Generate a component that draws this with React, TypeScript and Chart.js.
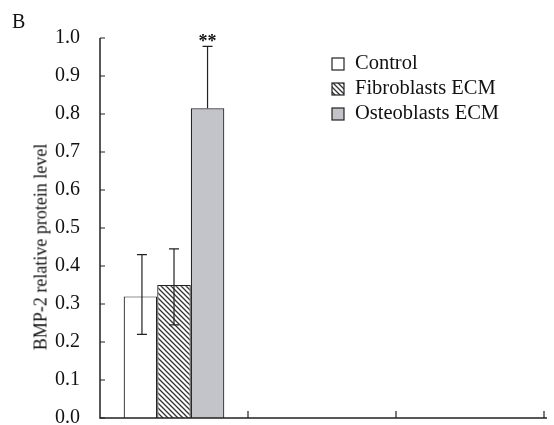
import React, { useEffect, useRef } from "react";
import { Chart, registerables } from "chart.js";

Chart.register(...registerables);

const categories = ["", "", ""];
const seriesNames = ["Control", "Fibroblasts ECM", "Osteoblasts ECM"];
const controlValues = [0.32, null, null];
const fibroValues = [0.35, null, null];
const osteoValues = [0.815, null, null];
const errUpper = [0.43, 0.445, 0.978];
const errLower = [0.22, 0.245, null];
const yTicks = [0, 0.1, 0.2, 0.3, 0.4, 0.5, 0.6, 0.7, 0.8, 0.9, 1.0];
const significance = "**";

const FONT = '"Liberation Serif", "Times New Roman", serif';

function makeHatch(): CanvasPattern | string {
  const c = document.createElement("canvas");
  c.width = 5;
  c.height = 5;
  const g = c.getContext("2d");
  if (!g) return "#888";
  g.fillStyle = "#ffffff";
  g.fillRect(0, 0, 5, 5);
  g.strokeStyle = "#333333";
  g.lineWidth = 1.3;
  g.beginPath();
  g.moveTo(-1, -1);
  g.lineTo(6, 6);
  g.moveTo(-1, 4);
  g.lineTo(1, 6);
  g.moveTo(4, -1);
  g.lineTo(6, 1);
  g.stroke();
  const p = g.createPattern(c, "repeat");
  return p || "#888";
}

export default function App() {
  const ref = useRef<HTMLCanvasElement>(null);
  useEffect(() => {
    document.body.style.margin = "0";
    const canvas = ref.current;
    if (!canvas) return;
    const hatch = makeHatch();
    const fills: any[] = ["#ffffff", hatch, "#c3c3ca"];

    const customDraw = {
      id: "customDraw",
      afterDatasetsDraw(chart: any) {
        const ctx = chart.ctx;
        const x = chart.scales.x;
        const y = chart.scales.y;
        const area = chart.chartArea;
        ctx.save();
        // error bars
        ctx.strokeStyle = "#222";
        ctx.lineWidth = 1.2;
        chart.data.datasets.forEach((ds: any, di: number) => {
          const meta = chart.getDatasetMeta(di);
          const el = meta.data[0];
          if (!el) return;
          const cx = el.x + (di === 0 ? 1.5 : 0);
          const top = y.getPixelForValue(errUpper[di]);
          const base = errLower[di] != null ? y.getPixelForValue(errLower[di] as number) : el.y;
          ctx.beginPath();
          ctx.moveTo(cx, el.y);
          ctx.lineTo(cx, top);
          ctx.moveTo(cx - 5, top);
          ctx.lineTo(cx + 5, top);
          if (errLower[di] != null) {
            ctx.moveTo(cx, el.y);
            ctx.lineTo(cx, base);
            ctx.moveTo(cx - 5, base);
            ctx.lineTo(cx + 5, base);
          }
          ctx.stroke();
          if (di === 2) {
            ctx.fillStyle = "#111";
            ctx.font = `bold 18px ${FONT}`;
            ctx.textAlign = "center";
            ctx.textBaseline = "bottom";
            ctx.fillText(significance, cx, top + 5);
          }
        });
        // axes
        ctx.strokeStyle = "#222";
        ctx.lineWidth = 1.5;
        ctx.beginPath();
        ctx.moveTo(area.left, y.getPixelForValue(1.0));
        ctx.lineTo(area.left, area.bottom);
        ctx.lineTo(area.right + 3, area.bottom);
        ctx.stroke();
        ctx.lineWidth = 1.2;
        ctx.beginPath();
        yTicks.forEach((t) => {
          const py = y.getPixelForValue(t);
          ctx.moveTo(area.left, py);
          ctx.lineTo(area.left + 5, py);
        });
        for (let i = 1; i <= categories.length; i++) {
          const px = x.getPixelForValue(i - 0.5);
          ctx.moveTo(px, area.bottom);
          ctx.lineTo(px, area.bottom - 7);
        }
        ctx.stroke();
        // legend
        ctx.font = `20.5px ${FONT}`;
        ctx.textAlign = "left";
        ctx.textBaseline = "middle";
        const lx = 332;
        const ly0 = 64;
        chart.data.datasets.forEach((ds: any, di: number) => {
          const ly = ly0 + di * 25;
          ctx.fillStyle = fills[di];
          ctx.fillRect(lx, ly - 6, 12, 12);
          ctx.strokeStyle = "#222";
          ctx.lineWidth = 1.2;
          ctx.strokeRect(lx, ly - 6, 12, 12);
          ctx.fillStyle = "#111";
          ctx.fillText(ds.label, lx + 23, ly);
        });
        // panel label
        ctx.font = `20px ${FONT}`;
        ctx.textBaseline = "middle";
        ctx.fillText("B", 12, 23);
        ctx.restore();
      },
    };

    const chart = new Chart(canvas, {
      type: "bar",
      data: {
        labels: categories,
        datasets: [controlValues, fibroValues, osteoValues].map((d, i) => ({
          label: seriesNames[i],
          data: d as any,
          backgroundColor: fills[i],
          borderColor: "#222",
          borderWidth: 1.2,
          borderSkipped: "bottom",
          barPercentage: 1,
          categoryPercentage: 0.68,
        })),
      },
      options: {
        animation: false,
        responsive: false,
        maintainAspectRatio: false,
        layout: { padding: { top: 38, right: 10, left: 0, bottom: 7 } },
        plugins: { legend: { display: false }, tooltip: { enabled: false } },
        scales: {
          x: {
            display: true,
            offset: true,
            ticks: { display: false },
            grid: { display: false },
            border: { display: false },
            afterFit: (s: any) => {
              s.height = 0;
            },
          },
          y: {
            min: 0,
            max: 1,
            afterBuildTicks: (s: any) => {
              s.ticks = yTicks.map((v) => ({ value: v }));
            },
            ticks: {
              color: "#111",
              font: { family: FONT, size: 20 },
              padding: 12,
              callback: (v: any) => Number(v).toFixed(1),
            },
            grid: { display: false },
            border: { display: false },
            afterFit: (s: any) => {
              s.width = 100;
              s.paddingTop = 0;
              s.paddingBottom = 0;
            },
          },
        },
      },
      plugins: [customDraw],
    });
    return () => chart.destroy();
  }, []);
  return (
    <div style={{ position: "absolute", left: 0, top: 0, width: 554, height: 425, background: "#fff" }}>
      <canvas ref={ref} width={554} height={425} />
      <div
        style={{
          position: "absolute",
          left: 41,
          top: 247,
          transform: "translate(-50%, -50%) rotate(-90deg)",
          whiteSpace: "nowrap",
          fontFamily: FONT,
          fontSize: 18,
          color: "#111",
        }}
      >
        BMP-2 relative protein level
      </div>
    </div>
  );
}
